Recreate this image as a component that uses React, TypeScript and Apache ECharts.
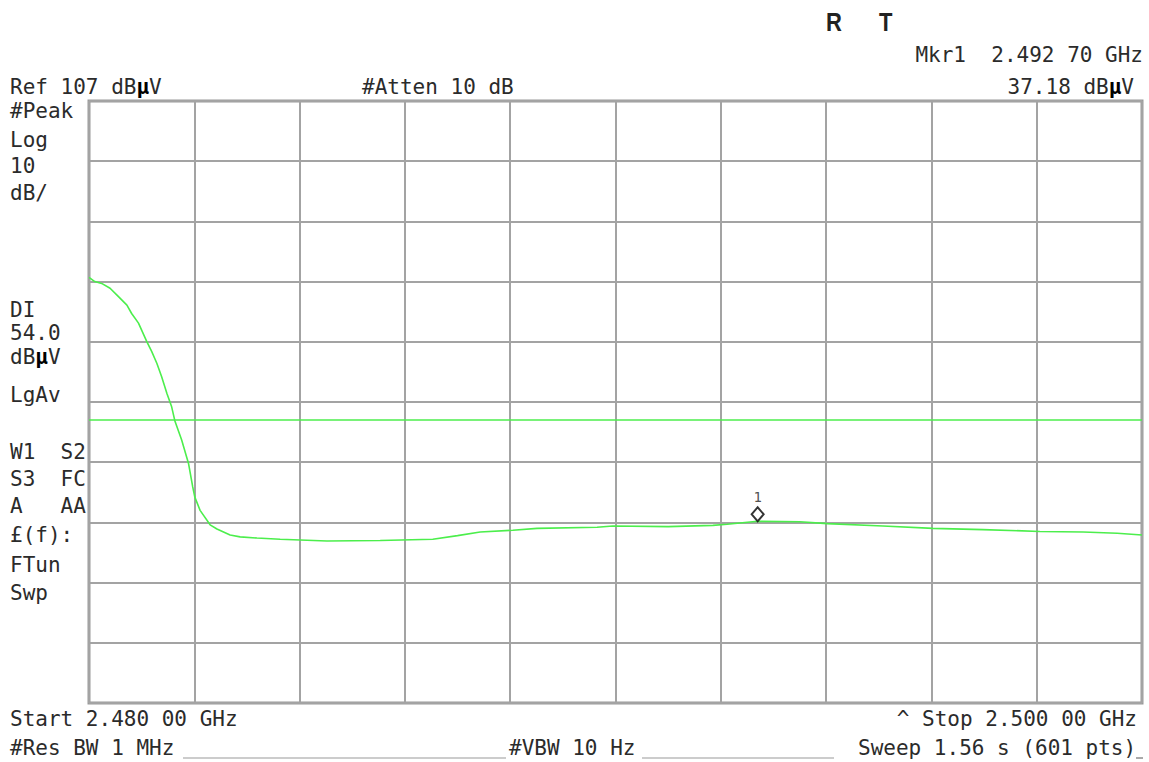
import React, { useEffect, useRef } from "react";
import * as echarts from "echarts";

// ---- instrument settings ----
const REF_LEVEL = 107; // dBµV at top of graticule
const DB_PER_DIV = 10;
const V_DIVS = 10;
const START_MHZ = 2480;
const STOP_MHZ = 2500;
const DISPLAY_LINE = 54.0; // dBµV
const MARKER_FREQ = 2492.7; // MHz
const MARKER_LEVEL = 37.18; // dBµV

// ---- trace readings (MHz, dBµV) ----
const traceFreqMHz = [
  2480.0, 2480.11, 2480.24, 2480.4, 2480.56, 2480.72, 2480.81, 2480.94, 2481.1,
  2481.19, 2481.29, 2481.38, 2481.48, 2481.57, 2481.63, 2481.76, 2481.89, 2481.97,
  2482.01, 2482.11, 2482.3, 2482.43, 2482.68, 2482.87, 2483.19, 2483.63, 2484.52,
  2485.53, 2486.53, 2487.0, 2487.43, 2488.05, 2488.51, 2489.65, 2489.95, 2491.0,
  2491.85, 2492.12, 2492.7, 2493.5, 2494.02, 2495.08, 2496.03, 2496.98, 2498.06,
  2498.88, 2499.53, 2500.0,
];
const traceLevel = [
  77.7, 77.0, 76.7, 75.9, 74.5, 73.1, 71.7, 70.1, 67.0,
  65.4, 63.4, 61.2, 58.4, 56.2, 53.9, 50.7, 46.8, 42.9,
  41.2, 39.0, 36.6, 35.9, 34.9, 34.6, 34.4, 34.2, 33.9,
  34.0, 34.2, 34.8, 35.4, 35.7, 36.0, 36.2, 36.4, 36.3,
  36.5, 36.7, 37.18, 37.1, 36.8, 36.4, 36.0, 35.8, 35.5,
  35.4, 35.2, 34.9,
];

// ---- screen annotations ----
const leftColumn = [
  { text: "#Peak", y: 111 },
  { text: "Log", y: 140 },
  { text: "10", y: 166 },
  { text: "dB/", y: 193 },
  { text: "DI", y: 310 },
  { text: "54.0", y: 333 },
  { text: "dBµV", y: 357 },
  { text: "LgAv", y: 395 },
  { text: "W1  S2", y: 452 },
  { text: "S3  FC", y: 479 },
  { text: "A   AA", y: 506 },
  { text: "£(f):", y: 535 },
  { text: "FTun", y: 565 },
  { text: "Swp", y: 593 },
];

const MONO = '"DejaVu Sans Mono", "Liberation Mono", monospace';
const FS = 21;
const TXT = "#2b2b2b";

function richMu(s: string) {
  // make the µ glyph bold like the instrument font
  const parts = s.split("µ");
  if (parts.length === 1) return `{a|${s}}`;
  return parts.map((p) => (p ? `{a|${p}}` : "")).join("{b|µ}");
}

function txt(text: string, x: number, y: number, align: string = "left") {
  return {
    type: "text",
    x,
    y,
    silent: true,
    style: {
      text: richMu(text),
      align,
      verticalAlign: "middle",
      fill: TXT,
      rich: {
        a: { fontFamily: MONO, fontSize: FS, fill: TXT },
        b: { fontFamily: MONO, fontSize: FS, fontWeight: "bold", fill: "#000" },
      },
    },
  };
}

function bigLetter(text: string, x: number) {
  return {
    type: "text",
    x,
    y: 22,
    scaleY: 1.2,
    silent: true,
    style: {
      text,
      font: 'bold 22px "Liberation Sans", "DejaVu Sans", sans-serif',
      fill: "#222",
      verticalAlign: "middle",
    },
  };
}

export default function App() {
  const ref = useRef<HTMLDivElement>(null);
  useEffect(() => {
    if (!ref.current) return;
    const chart = echarts.init(ref.current, undefined, { renderer: "svg" });

    const traceData = traceFreqMHz.map((f, i) => [f, traceLevel[i] - REF_LEVEL]);
    const bottom = -DB_PER_DIV * V_DIVS;

    const graphics: any[] = [
      bigLetter("R", 826),
      bigLetter("T", 879),
      txt("Mkr1  2.492 70 GHz", 1143, 55, "right"),
      txt("37.18 dBµV", 1134, 87, "right"),
      txt("Ref 107 dBµV", 10, 87),
      txt("#Atten 10 dB", 362, 87),
      ...leftColumn.map((l) => txt(l.text, 10, l.y)),
      txt("Start 2.480 00 GHz", 10, 719),
      txt("^ Stop 2.500 00 GHz", 1137, 719, "right"),
      txt("#Res BW 1 MHz", 10, 748),
      txt("#VBW 10 Hz", 509, 748),
      txt("Sweep 1.56 s (601 pts)", 858, 748),
      { type: "line", silent: true, shape: { x1: 183, y1: 758, x2: 506, y2: 758 }, style: { stroke: "#999", lineWidth: 1 } },
      { type: "line", silent: true, shape: { x1: 642, y1: 758, x2: 834, y2: 758 }, style: { stroke: "#999", lineWidth: 1 } },
      { type: "line", silent: true, shape: { x1: 1136, y1: 758, x2: 1143, y2: 758 }, style: { stroke: "#555", lineWidth: 1 } },
    ];

    chart.setOption({
      animation: false,
      backgroundColor: "#ffffff",
      grid: {
        left: 89,
        top: 101,
        width: 1053,
        height: 602,
        show: true,
        borderColor: "#9a9a9a",
        borderWidth: 3,
        backgroundColor: "#ffffff",
      },
      xAxis: {
        type: "value",
        min: START_MHZ,
        max: STOP_MHZ,
        interval: (STOP_MHZ - START_MHZ) / 10,
        axisLine: { show: false },
        axisTick: { show: false },
        axisLabel: { show: false },
        splitLine: { show: true, lineStyle: { color: "#a3a3a3", width: 2 } },
      },
      yAxis: {
        type: "value",
        min: bottom,
        max: 0,
        interval: DB_PER_DIV,
        axisLine: { show: false },
        axisTick: { show: false },
        axisLabel: { show: false },
        splitLine: { show: true, lineStyle: { color: "#a3a3a3", width: 2 } },
      },
      graphic: graphics,
      series: [
        {
          type: "line",
          data: traceData,
          showSymbol: false,
          symbol: "none",
          smooth: false,
          lineStyle: { color: "#4cee4c", width: 1.6 },
          silent: true,
          markLine: {
            silent: true,
            symbol: ["none", "none"],
            label: { show: false },
            lineStyle: { color: "#4cee4c", width: 1.6, type: "solid" },
            data: [{ yAxis: DISPLAY_LINE - REF_LEVEL }],
          },
          z: 3,
        },
        {
          type: "scatter",
          data: [[MARKER_FREQ, MARKER_LEVEL - REF_LEVEL]],
          symbol: "diamond",
          symbolSize: [12, 14],
          symbolOffset: [0, -7],
          itemStyle: { color: "#ffffff", borderColor: "#000000", borderWidth: 2 },
          label: {
            show: true,
            formatter: "1",
            position: "top",
            distance: 2,
            fontFamily: MONO,
            fontSize: 14,
            color: "#222",
          },
          silent: true,
          z: 5,
        },
      ],
    });

    return () => chart.dispose();
  }, []);

  return (
    <div
      ref={ref}
      style={{ position: "absolute", left: 0, top: 0, width: 1149, height: 762, background: "#fff" }}
    />
  );
}
